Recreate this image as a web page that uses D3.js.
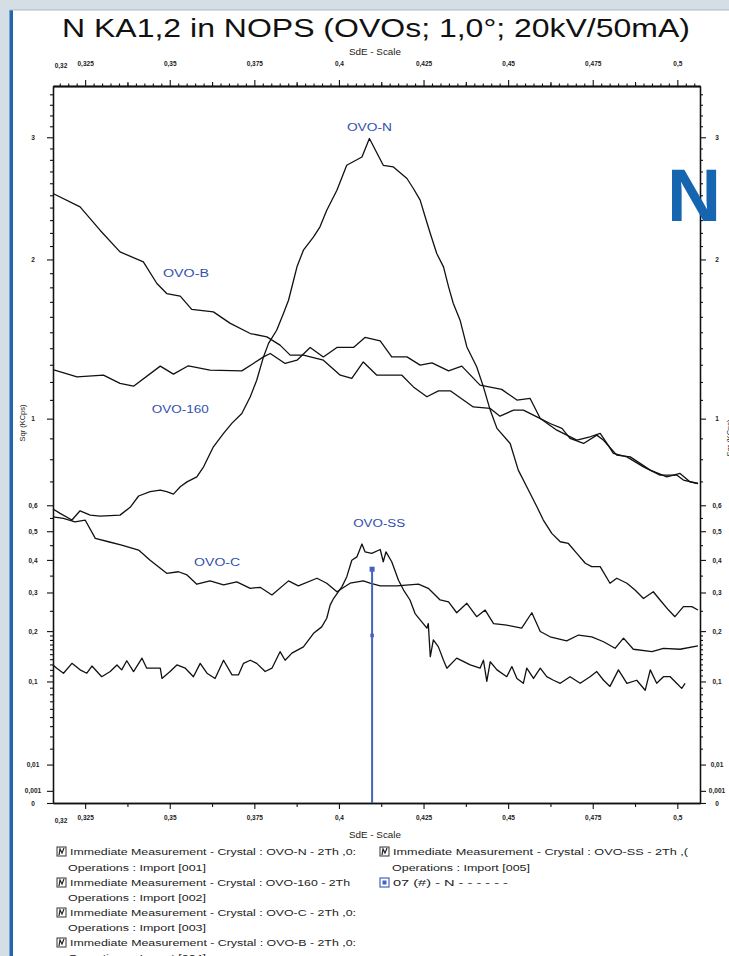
<!DOCTYPE html>
<html><head><meta charset="utf-8">
<script src="https://cdn.jsdelivr.net/npm/d3@7"></script>
<style>html,body{margin:0;padding:0;background:#d6dee5;overflow:hidden}svg{display:block}</style>
</head><body><svg id="c" width="729" height="956"></svg>
<script>
const chartTitle = "N KA1,2 in NOPS (OVOs; 1,0°; 20kV/50mA)";
const xAxisTitle = "SdE - Scale";
const yAxisTitle = "Sqr (KCps)";
const xDomain = [0.3155, 0.5067];
const yDomain = [0, 3.48];
const xMajorTicks = [0.325, 0.35, 0.375, 0.4, 0.425, 0.45, 0.475, 0.5];
const xMajorLabels = ["0,325", "0,35", "0,375", "0,4", "0,425", "0,45", "0,475", "0,5"];
const xStartLabel = "0,32";
const yMajorTicks = [0, 0.001, 0.01, 0.1, 0.2, 0.3, 0.4, 0.5, 0.6, 1, 2, 3];
const yMajorLabels = ["0", "0,001", "0,01", "0,1", "0,2", "0,3", "0,4", "0,5", "0,6", "1", "2", "3"];
const yMinorTicks = [0.02,0.03,0.04,0.05,0.06,0.07,0.08,0.09,0.11,0.12,0.13,0.14,0.15,0.16,0.17,0.18,0.19,0.25,0.35,0.45,0.55,0.7,0.8,0.9,1.1,1.2,1.3,1.4,1.5,1.6,1.7,1.8,1.9,2.1,2.2,2.3,2.4,2.5,2.6,2.7,2.8,2.9,3.1,3.2,3.3,3.4];

const ovoN_x = [0.3155,0.3176,0.3211,0.3235,0.3265,0.3294,0.3353,0.3383,0.3408,0.3442,0.3472,0.3491,0.3511,0.3531,0.3551,0.3580,0.3600,0.3629,0.3659,0.3684,0.3713,0.3738,0.3757,0.3777,0.3792,0.3816,0.3836,0.3851,0.3866,0.3876,0.3895,0.3925,0.3944,0.3964,0.3994,0.4023,0.4068,0.4090,0.4131,0.4161,0.4201,0.4220,0.4240,0.4255,0.4270,0.4289,0.4309,0.4324,0.4338,0.4358,0.4378,0.4407,0.4427,0.4447,0.4467,0.4506,0.4530,0.4555,0.4585,0.4604,0.4629,0.4654,0.4678,0.4703,0.4728,0.4747,0.4772,0.4801,0.4821,0.4851,0.4875,0.4900,0.4929,0.4949,0.4974,0.4993,0.5018,0.5043,0.5061];
const ovoN_y = [0.585,0.568,0.542,0.578,0.561,0.557,0.561,0.592,0.638,0.656,0.663,0.656,0.646,0.677,0.698,0.720,0.765,0.859,0.925,0.977,1.027,1.117,1.210,1.347,1.430,1.513,1.622,1.711,1.850,1.946,2.069,2.169,2.247,2.379,2.542,2.753,2.825,2.989,2.753,2.739,2.640,2.556,2.460,2.325,2.195,2.044,1.946,1.803,1.689,1.578,1.408,1.288,1.172,1.045,0.950,0.875,0.750,0.677,0.594,0.542,0.492,0.462,0.456,0.422,0.389,0.378,0.378,0.327,0.342,0.327,0.307,0.283,0.302,0.279,0.252,0.235,0.261,0.261,0.252];

const ovoB_x = [0.3155,0.3235,0.3294,0.3353,0.3422,0.3462,0.3491,0.3531,0.3565,0.3629,0.3679,0.3738,0.3787,0.3826,0.3856,0.3895,0.3954,0.4004,0.4038,0.4072,0.4112,0.4186,0.4220,0.4260,0.4294,0.4329,0.4397,0.4447,0.4476,0.4516,0.4545,0.4585,0.4624,0.4659,0.4683,0.4723,0.4762,0.4782,0.4821,0.4861,0.4920,0.4969,0.5008,0.5038,0.5061];
const ovoB_y = [2.515,2.405,2.221,2.056,1.982,1.827,1.757,1.739,1.649,1.633,1.557,1.492,1.471,1.419,1.358,1.358,1.327,1.239,1.220,1.317,1.239,1.239,1.172,1.117,1.150,1.150,1.062,1.054,1.013,1.045,1.045,1.009,0.975,0.950,0.900,0.875,0.916,0.891,0.819,0.811,0.750,0.720,0.735,0.698,0.691];

const ovo160_x = [0.3155,0.3226,0.3304,0.3353,0.3393,0.3472,0.3511,0.3555,0.3619,0.3713,0.3747,0.3777,0.3797,0.3841,0.3876,0.3915,0.3954,0.3994,0.4043,0.4077,0.4122,0.4156,0.4201,0.4240,0.4275,0.4324,0.4363,0.4417,0.4481,0.4526,0.4565,0.4595,0.4644,0.4703,0.4742,0.4772,0.4792,0.4811,0.4851,0.4900,0.4949,0.4998,0.5018,0.5061];
const ovo160_y = [1.272,1.229,1.239,1.192,1.176,1.292,1.245,1.294,1.268,1.264,1.308,1.347,1.368,1.308,1.327,1.405,1.347,1.405,1.405,1.467,1.446,1.347,1.347,1.298,1.311,1.264,1.292,1.182,1.158,1.099,1.108,1.001,0.941,0.891,0.908,0.925,0.875,0.827,0.811,0.765,0.728,0.728,0.706,0.691];

const ovoC_x = [0.3155,0.3186,0.3220,0.3250,0.3280,0.3319,0.3358,0.3408,0.3442,0.3491,0.3526,0.3551,0.3580,0.3619,0.3659,0.3698,0.3738,0.3767,0.3802,0.3851,0.3880,0.3935,0.3964,0.3994,0.4033,0.4072,0.4092,0.4122,0.4171,0.4235,0.4264,0.4299,0.4324,0.4348,0.4378,0.4407,0.4432,0.4457,0.4496,0.4540,0.4570,0.4595,0.4624,0.4673,0.4708,0.4747,0.4782,0.4816,0.4841,0.4870,0.4925,0.4959,0.5008,0.5061];
const ovoC_y = [0.554,0.548,0.535,0.542,0.474,0.462,0.450,0.433,0.399,0.357,0.362,0.352,0.324,0.334,0.322,0.331,0.312,0.315,0.293,0.334,0.319,0.342,0.327,0.302,0.327,0.334,0.327,0.319,0.319,0.324,0.312,0.279,0.274,0.245,0.270,0.235,0.252,0.218,0.214,0.207,0.245,0.199,0.187,0.178,0.191,0.187,0.176,0.162,0.184,0.160,0.155,0.162,0.160,0.167];

const ovoSS_x = [0.3155,0.3166,0.3186,0.3211,0.3235,0.3255,0.3270,0.3299,0.3324,0.3344,0.3358,0.3373,0.3393,0.3418,0.3432,0.3472,0.3477,0.3501,0.3521,0.3546,0.3570,0.3590,0.3610,0.3634,0.3659,0.3684,0.3703,0.3718,0.3738,0.3757,0.3782,0.3802,0.3826,0.3841,0.3861,0.3895,0.3925,0.3949,0.3964,0.3974,0.3984,0.4009,0.4023,0.4038,0.4053,0.4068,0.4077,0.4097,0.4122,0.4131,0.4139,0.4156,0.4176,0.4191,0.4210,0.4225,0.4240,0.4260,0.4264,0.4270,0.4279,0.4294,0.4309,0.4319,0.4348,0.4388,0.4417,0.4427,0.4437,0.4447,0.4467,0.4496,0.4511,0.4526,0.4545,0.4555,0.4575,0.4595,0.4614,0.4634,0.4654,0.4683,0.4713,0.4742,0.4762,0.4782,0.4801,0.4826,0.4851,0.4880,0.4905,0.4920,0.4939,0.4959,0.4979,0.4998,0.5013,0.5023];
const ovoSS_y = [0.129,0.123,0.114,0.132,0.120,0.114,0.127,0.108,0.117,0.129,0.120,0.137,0.117,0.142,0.123,0.123,0.105,0.117,0.129,0.123,0.108,0.132,0.114,0.105,0.138,0.111,0.111,0.132,0.138,0.132,0.117,0.123,0.155,0.138,0.152,0.165,0.195,0.210,0.231,0.265,0.283,0.317,0.346,0.399,0.410,0.454,0.427,0.422,0.435,0.394,0.427,0.394,0.336,0.307,0.279,0.243,0.227,0.207,0.218,0.145,0.180,0.165,0.138,0.123,0.142,0.129,0.123,0.138,0.100,0.135,0.120,0.108,0.126,0.105,0.097,0.123,0.105,0.123,0.108,0.102,0.097,0.108,0.097,0.108,0.117,0.102,0.092,0.120,0.097,0.102,0.086,0.120,0.097,0.108,0.108,0.097,0.089,0.097];

const seriesNames = ["OVO-N", "OVO-B", "OVO-160", "OVO-C", "OVO-SS"];
const seriesLabelX = [0.4090, 0.3548, 0.3531, 0.3640, 0.4119];
const seriesLabelY = [3.09, 1.90, 1.05, 0.393, 0.530];
const seriesLabelLen = [45, 46, 57, 46, 52];

const markerName = "N";
const markerX = 0.4098;
const markerTop = 0.37;
const markerMid = 0.19;

const legendLeft = [
  ["Immediate Measurement - Crystal : OVO-N - 2Th ,0:", "Operations : Import [001]"],
  ["Immediate Measurement - Crystal : OVO-160 - 2Th", "Operations : Import [002]"],
  ["Immediate Measurement - Crystal : OVO-C - 2Th ,0:", "Operations : Import [003]"],
  ["Immediate Measurement - Crystal : OVO-B - 2Th ,0:", "Operations : Import [004]"]
];
const legendRight = [
  ["Immediate Measurement - Crystal : OVO-SS - 2Th ,(", "Operations : Import [005]"]
];
const legendMarker = "07 (#) - N - - - - - -";

const FONT = "'Liberation Sans', Arial, sans-serif";
const svg = d3.select("#c");
const W = 729, H = 956;
const L = 53, R = 700, T = 86, B = 803;

// frame
svg.append("rect").attr("width", W).attr("height", H).attr("fill", "#d6dee5");
svg.append("rect").attr("x", 13).attr("y", 10).attr("width", W - 13).attr("height", H - 10).attr("fill", "#ffffff");
svg.append("rect").attr("x", 9.5).attr("y", 10).attr("width", 3.5).attr("height", H - 10).attr("fill", "#1f66b0");
svg.append("line").attr("x1", 9.5).attr("x2", W).attr("y1", 10).attr("y2", 10).attr("stroke", "#a9bccb").attr("stroke-width", 1);

// title
svg.append("text").attr("x", 376).attr("y", 37).attr("text-anchor", "middle")
  .attr("font-family", FONT).attr("font-size", 25).attr("fill", "#111")
  .attr("textLength", 628).attr("lengthAdjust", "spacingAndGlyphs").text(chartTitle);

const x = d3.scaleLinear().domain(xDomain).range([L, R]);
const y = d3.scaleSqrt().domain(yDomain).range([B, T]);

const fmtY = d => yMajorLabels[yMajorTicks.indexOf(d)];
const fmtX = d => xMajorLabels[xMajorTicks.indexOf(d)];

function styleAxis(g) {
  g.select(".domain").attr("stroke", "#111").attr("stroke-width", 1.3);
  g.selectAll(".tick line").attr("stroke", "#111").attr("stroke-width", 1.1);
  g.selectAll("text").attr("font-family", FONT).attr("font-size", 6.5).attr("font-weight", "bold").attr("fill", "#222");
}

// x minor ticks
const xMinor = d3.range(0.3175, 0.5067, 0.0025).filter(v => !xMajorTicks.some(m => Math.abs(m - v) < 1e-6));
const xHalf = xMajorTicks.map(v => v + 0.0125).filter(v => v < xDomain[1]);

// top axis
const gTopMinor = svg.append("g").attr("transform", `translate(0,${T})`)
  .call(d3.axisTop(x).tickValues(xMinor).tickSize(2.5).tickFormat("").tickSizeOuter(0));
styleAxis(gTopMinor);
const gTopHalf = svg.append("g").attr("transform", `translate(0,${T})`)
  .call(d3.axisTop(x).tickValues(xHalf).tickSize(4).tickFormat("").tickSizeOuter(0));
styleAxis(gTopHalf);
const gTop = svg.append("g").attr("transform", `translate(0,${T})`)
  .call(d3.axisTop(x).tickValues(xMajorTicks).tickSize(6).tickPadding(14).tickFormat(fmtX).tickSizeOuter(0));
styleAxis(gTop);

// bottom axis
const gBotHalf = svg.append("g").attr("transform", `translate(0,${B})`)
  .call(d3.axisBottom(x).tickValues(xHalf).tickSize(4).tickFormat("").tickSizeOuter(0));
styleAxis(gBotHalf);
const gBot = svg.append("g").attr("transform", `translate(0,${B})`)
  .call(d3.axisBottom(x).tickValues(xMajorTicks).tickSize(6).tickPadding(6).tickFormat(fmtX).tickSizeOuter(0));
styleAxis(gBot);

// start labels
[[T - 20, "top"], [B + 18, "bot"]].forEach(([yy]) => {
  svg.append("text").attr("x", x(xDomain[0]) + 8).attr("y", yy + 2).attr("text-anchor", "middle")
    .attr("font-family", FONT).attr("font-size", 6.5).attr("font-weight", "bold").attr("fill", "#222").text(xStartLabel);
});

// x titles
[52, 835].forEach(yy => {
  svg.append("text").attr("x", 375).attr("y", yy + 3).attr("text-anchor", "middle")
    .attr("font-family", FONT).attr("font-size", 8.5).attr("fill", "#222")
    .attr("textLength", 52).attr("lengthAdjust", "spacingAndGlyphs").text(xAxisTitle);
});

// left axis
const gLMinor = svg.append("g").attr("transform", `translate(${L},0)`)
  .call(d3.axisLeft(y).tickValues(yMinorTicks).tickSize(3).tickFormat("").tickSizeOuter(0));
styleAxis(gLMinor);
const gL = svg.append("g").attr("transform", `translate(${L},0)`)
  .call(d3.axisLeft(y).tickValues(yMajorTicks).tickSize(6).tickFormat(fmtY).tickSizeOuter(0));
styleAxis(gL);
gL.selectAll("text").attr("text-anchor", "middle").attr("x", -20);

// right axis
const gRMinor = svg.append("g").attr("transform", `translate(${R},0)`)
  .call(d3.axisRight(y).tickValues(yMinorTicks).tickSize(3).tickFormat("").tickSizeOuter(0));
styleAxis(gRMinor);
const gR = svg.append("g").attr("transform", `translate(${R},0)`)
  .call(d3.axisRight(y).tickValues(yMajorTicks).tickSize(6).tickFormat(fmtY).tickSizeOuter(0));
styleAxis(gR);
gR.selectAll("text").attr("text-anchor", "middle").attr("x", 17);

// y titles
svg.append("text").attr("transform", "translate(25,423) rotate(-90)").attr("text-anchor", "middle")
  .attr("font-family", FONT).attr("font-size", 7.5).attr("fill", "#222").text(yAxisTitle);
svg.append("text").attr("transform", "translate(732,438) rotate(-90)").attr("text-anchor", "middle")
  .attr("font-family", FONT).attr("font-size", 7.5).attr("fill", "#222").text(yAxisTitle);

// series
const allX = [ovoN_x, ovoB_x, ovo160_x, ovoC_x, ovoSS_x];
const allY = [ovoN_y, ovoB_y, ovo160_y, ovoC_y, ovoSS_y];
const line = d3.line().x(d => x(d[0])).y(d => y(d[1]));
allX.forEach((xs, i) => {
  const pts = xs.map((v, j) => [v, allY[i][j]]);
  svg.append("path").datum(pts).attr("d", line).attr("fill", "none")
    .attr("stroke", "#111").attr("stroke-width", 1.3).attr("stroke-linejoin", "round");
});

// series labels
seriesNames.forEach((n, i) => {
  svg.append("text").attr("x", x(seriesLabelX[i])).attr("y", y(seriesLabelY[i]) + 3.5)
    .attr("text-anchor", "middle").attr("font-family", FONT).attr("font-size", 10)
    .attr("fill", "#2f4fb0").attr("textLength", seriesLabelLen[i]).attr("lengthAdjust", "spacingAndGlyphs").text(n);
});

// marker line
const mc = "#4563bd";
svg.append("line").attr("x1", x(markerX)).attr("x2", x(markerX)).attr("y1", y(0)).attr("y2", y(markerTop))
  .attr("stroke", mc).attr("stroke-width", 2);
svg.append("rect").attr("x", x(markerX) - 2.5).attr("y", y(markerTop) - 2.5).attr("width", 5).attr("height", 5).attr("fill", mc);
svg.append("rect").attr("x", x(markerX) - 1.8).attr("y", y(markerMid) - 1.8).attr("width", 3.6).attr("height", 3.6).attr("fill", mc);

// big N
svg.append("text").attr("x", 667).attr("y", 221).attr("font-family", FONT).attr("font-weight", "bold")
  .attr("font-size", 75).attr("fill", "#1565b0").text(markerName);

// legend
function icon(xx, yy) {
  svg.append("rect").attr("x", xx).attr("y", yy - 5).attr("width", 9).attr("height", 9)
    .attr("fill", "#fff").attr("stroke", "#333").attr("stroke-width", 1);
  svg.append("path").attr("d", `M${xx + 2},${yy + 3} L${xx + 3},${yy - 3} L${xx + 5},${yy + 1} L${xx + 7},${yy - 4}`)
    .attr("fill", "none").attr("stroke", "#222").attr("stroke-width", 1.2);
}
function ltext(xx, yy, t, len) {
  svg.append("text").attr("x", xx).attr("y", yy + 3).attr("font-family", FONT).attr("font-size", 8.5)
    .attr("fill", "#222").attr("textLength", len).attr("lengthAdjust", "spacingAndGlyphs").text(t);
}
const rowY = [852, 868, 883, 898, 913, 928, 943, 958];
const lenMain = [286, 280, 286, 286];
legendLeft.forEach((pair, i) => {
  icon(57, rowY[2 * i]);
  ltext(70, rowY[2 * i], pair[0], lenMain[i]);
  ltext(68, rowY[2 * i + 1], pair[1], 138);
});
legendRight.forEach((pair, i) => {
  icon(380, rowY[2 * i]);
  ltext(393, rowY[2 * i], pair[0], 295);
  ltext(392, rowY[2 * i + 1], pair[1], 138);
});
svg.append("rect").attr("x", 380).attr("y", rowY[2] - 5).attr("width", 9).attr("height", 9)
  .attr("fill", "#fff").attr("stroke", mc).attr("stroke-width", 1.2);
svg.append("rect").attr("x", 382.5).attr("y", rowY[2] - 2.5).attr("width", 4).attr("height", 4).attr("fill", mc);
ltext(393, rowY[2], legendMarker, 115);
</script>
</body></html>
